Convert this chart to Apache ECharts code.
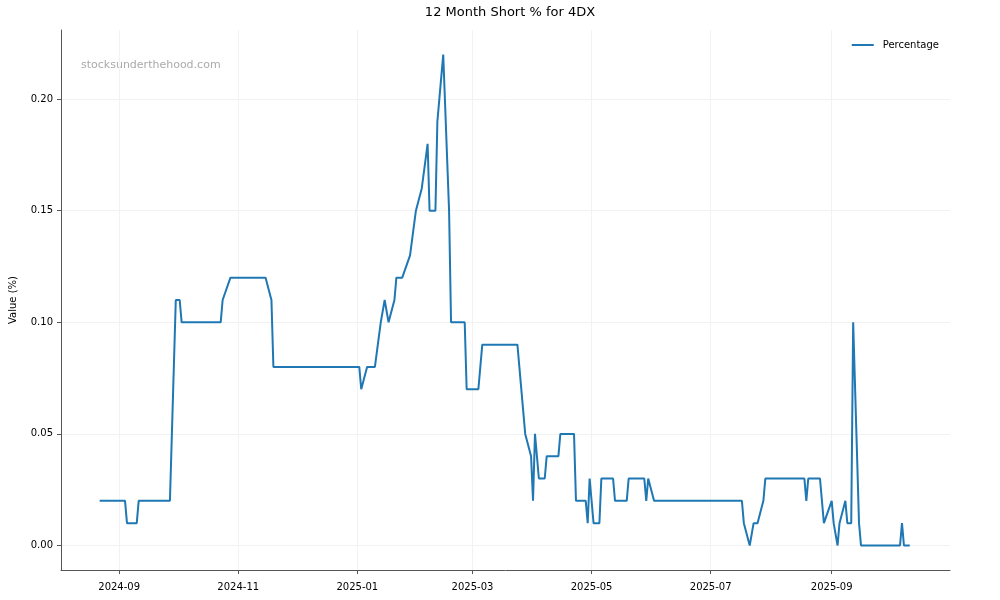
<!DOCTYPE html>
<html>
<head>
<meta charset="utf-8">
<script src="https://cdn.jsdelivr.net/npm/echarts@6/dist/echarts.min.js"></script>
<style>
  html, body { margin: 0; padding: 0; background: #fff; }
  #chart { width: 1000px; height: 600px; }
</style>
</head>
<body>
<div id="chart"></div>
<script>
// vertices of the short % line
const dates = [
  '2024-08-22', '2024-09-04', '2024-09-05', '2024-09-10', '2024-09-11', '2024-09-27',
  '2024-09-30', '2024-10-02', '2024-10-03', '2024-10-23', '2024-10-24', '2024-10-25',
  '2024-10-28', '2024-11-15', '2024-11-18', '2024-11-19', '2025-01-02', '2025-01-03',
  '2025-01-06', '2025-01-10', '2025-01-13', '2025-01-14', '2025-01-15', '2025-01-16',
  '2025-01-17', '2025-01-20', '2025-01-21', '2025-01-24', '2025-01-28', '2025-01-29',
  '2025-01-31', '2025-02-03', '2025-02-04', '2025-02-06', '2025-02-07', '2025-02-10',
  '2025-02-11', '2025-02-12', '2025-02-13', '2025-02-14', '2025-02-17', '2025-02-18',
  '2025-02-25', '2025-02-26', '2025-03-04', '2025-03-06', '2025-03-24', '2025-03-28',
  '2025-03-31', '2025-04-01', '2025-04-02', '2025-04-04', '2025-04-07', '2025-04-08',
  '2025-04-14', '2025-04-15', '2025-04-22', '2025-04-23', '2025-04-28', '2025-04-29',
  '2025-04-30', '2025-05-02', '2025-05-05', '2025-05-06', '2025-05-12', '2025-05-13',
  '2025-05-19', '2025-05-20', '2025-05-28', '2025-05-29', '2025-05-30', '2025-06-02',
  '2025-07-17', '2025-07-18', '2025-07-21', '2025-07-22', '2025-07-23', '2025-07-25',
  '2025-07-28', '2025-07-29', '2025-08-18', '2025-08-19', '2025-08-20', '2025-08-26',
  '2025-08-28', '2025-08-29', '2025-09-01', '2025-09-02', '2025-09-03', '2025-09-04',
  '2025-09-05', '2025-09-08', '2025-09-09', '2025-09-11', '2025-09-12', '2025-09-15',
  '2025-09-16', '2025-10-06', '2025-10-07', '2025-10-08', '2025-10-11'
];
const percentage = [
  0.02, 0.02, 0.01, 0.01, 0.02, 0.02,
  0.11, 0.11, 0.10, 0.10, 0.11, 0.11,
  0.12, 0.12, 0.11, 0.08, 0.08, 0.07,
  0.08, 0.08, 0.10, 0.10, 0.11, 0.11,
  0.10, 0.11, 0.12, 0.12, 0.13, 0.13,
  0.15, 0.16, 0.16, 0.18, 0.15, 0.15,
  0.19, 0.19, 0.21, 0.22, 0.15, 0.10,
  0.10, 0.07, 0.07, 0.09, 0.09, 0.05,
  0.04, 0.02, 0.05, 0.03, 0.03, 0.04,
  0.04, 0.05, 0.05, 0.02, 0.02, 0.01,
  0.03, 0.01, 0.01, 0.03, 0.03, 0.02,
  0.02, 0.03, 0.03, 0.02, 0.03, 0.02,
  0.02, 0.01, 0.00, 0.00, 0.01, 0.01,
  0.02, 0.03, 0.03, 0.02, 0.03, 0.03,
  0.01, 0.01, 0.02, 0.01, 0.01, 0.00,
  0.01, 0.02, 0.01, 0.01, 0.10, 0.01,
  0.00, 0.00, 0.01, 0.00, 0.00
];

const xTicks = ['2024-09-01', '2024-11-01', '2025-01-01', '2025-03-01', '2025-05-01', '2025-07-01', '2025-09-01'];
const yTicks = [0.00, 0.05, 0.10, 0.15, 0.20];

const font = 'DejaVu Sans';
const DAY = 86400000;
const ts = d => Date.parse(d + 'T00:00:00Z');
const t0 = ts('2024-09-01');
const xTickVals = xTicks.map(ts);

const chart = echarts.init(document.getElementById('chart'));
chart.setOption({
  animation: false,
  backgroundColor: '#fff',
  textStyle: { fontFamily: font },
  title: {
    text: '12 Month Short % for 4DX',
    left: 505, top: 1, textAlign: 'center',
    textStyle: { fontFamily: font, fontSize: 13, fontWeight: 'normal', color: '#000' }
  },
  legend: {
    top: 35, right: 56,
    icon: 'rect', itemWidth: 22, itemHeight: 2,
    textStyle: { fontFamily: font, fontSize: 10, color: '#000', padding: [0, 0, 0, 4] },
    data: ['Percentage']
  },
  graphic: [{
    type: 'text', left: 81, top: 60,
    style: { text: 'stocksunderthehood.com', fill: '#aaa', font: '11px "DejaVu Sans"' }
  }],
  grid: { left: 60, right: 50, top: 30, bottom: 30 },
  xAxis: {
    type: 'value',
    min: t0 - 29.8 * DAY,
    max: t0 + 425.6 * DAY,
    axisLine: { onZero: false, lineStyle: { color: '#555', width: 1 } },
    axisTick: { customValues: xTickVals, length: 4, lineStyle: { color: '#555' } },
    axisLabel: {
      customValues: xTickVals,
      color: '#000', fontSize: 10, fontFamily: font, margin: 12,
      formatter: v => new Date(v).toISOString().slice(0, 7)
    },
    splitLine: { show: true, lineStyle: { color: '#f2f2f2', width: 1 } }
  },
  yAxis: {
    type: 'value',
    min: -0.011, max: 0.231,
    name: 'Value (%)', nameLocation: 'middle', nameGap: 43,
    nameTextStyle: { fontFamily: font, fontSize: 10, color: '#000' },
    axisLine: { show: true, onZero: false, lineStyle: { color: '#555', width: 1 } },
    axisTick: { show: true, customValues: yTicks, length: 4, lineStyle: { color: '#555' } },
    axisLabel: {
      customValues: yTicks,
      color: '#000', fontSize: 10, fontFamily: font, margin: 8,
      formatter: v => v.toFixed(2)
    },
    splitLine: { show: true, lineStyle: { color: '#f2f2f2', width: 1 } }
  },
  series: [{
    name: 'Percentage',
    type: 'line',
    symbol: 'none',
    data: dates.map((d, i) => [ts(d), percentage[i]]),
    lineStyle: { color: '#1f77b4', width: 2 },
    itemStyle: { color: '#1f77b4' }
  }]
});
</script>
</body>
</html>
